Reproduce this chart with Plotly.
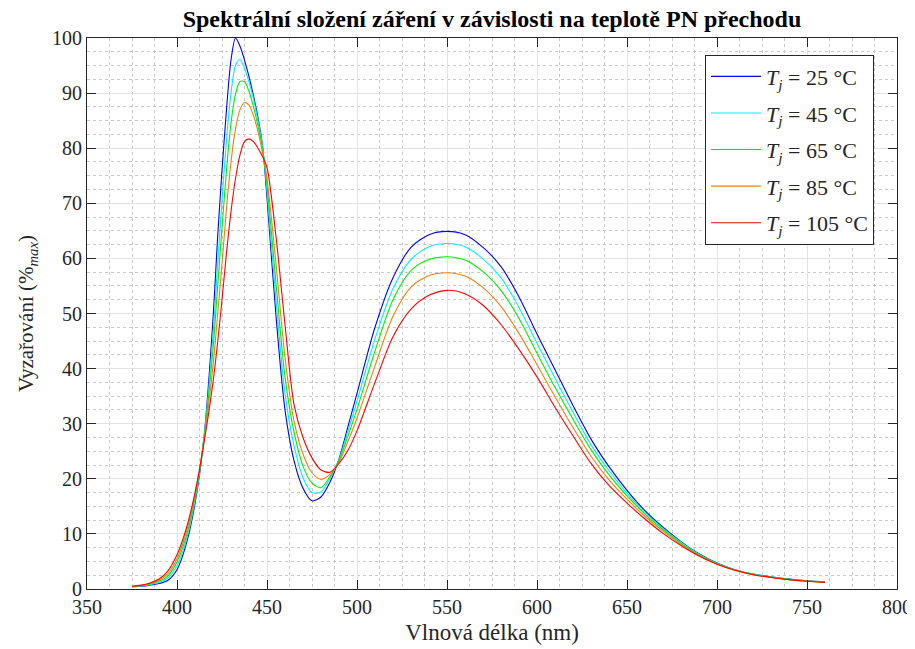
"""Spectral composition of LED radiation vs. PN junction temperature."""

import plotly.graph_objects as go

# Wavelength grid (nm)
wavelength = [375, 380, 385, 390, 395, 400, 405, 410, 415, 420,
              422.5, 425, 427.5, 430, 432.5, 435, 437.5, 440, 442.5, 445, 447.5, 450,
              455, 460, 465, 470, 475, 480, 485, 490, 495, 500,
              510, 520, 530, 540, 550, 560, 570, 580, 590, 600, 610, 620, 630,
              640, 650, 660, 670, 680, 690, 700, 710, 720, 730, 740, 750, 760]

# Relative radiation (% of max) per junction temperature
tj_25 = [0.4, 0.5, 0.7, 1.0, 1.6, 3.5, 8.0, 15.5, 27.5, 49,
         63.5, 76, 87, 96, 100, 98.5, 96, 93, 89.5, 85.5, 80.5, 71,
         49.5, 32.5, 23.3, 18.3, 16.0, 16.7, 19.4, 23.6, 29.5, 35.5,
         47.5, 56.5, 62, 64.3, 64.9, 64.3, 62, 58.5, 53, 46.3, 39.8, 33.3, 27.2,
         22.2, 17.9, 14.2, 11.2, 8.6, 6.4, 4.7, 3.5, 2.7, 2.2, 1.8, 1.5, 1.3]

tj_45 = [0.4, 0.55, 0.8, 1.2, 2.0, 4.2, 8.7, 16.0, 27.5, 46,
         58.5, 70.5, 81.5, 90, 95, 96.1, 94.5, 92, 89, 85, 80.5, 72.2,
         52.5, 35.5, 26, 20.2, 17.5, 17.6, 20.1, 23.5, 28.7, 34.1,
         45.4, 54.5, 59.8, 62.1, 62.7, 62.1, 59.9, 56.5, 51.1, 44.6, 38.3, 32.1, 26.2,
         21.5, 17.4, 13.9, 11.0, 8.5, 6.3, 4.65, 3.5, 2.7, 2.2, 1.8, 1.5, 1.3]

tj_65 = [0.45, 0.6, 0.9, 1.4, 2.4, 4.9, 9.4, 16.6, 27.3, 43.5,
         54.5, 65.5, 76, 84.5, 89.8, 92.1, 92.1, 90.3, 87.5, 84, 79.8, 73.3,
         55.5, 38.5, 28.5, 22.3, 19.2, 18.4, 20.4, 23.3, 27.8, 32.6,
         43.2, 52.5, 57.8, 59.8, 60.3, 59.7, 57.6, 54.2, 49.1, 42.8, 36.6, 30.8, 25.3,
         20.7, 16.9, 13.6, 10.8, 8.3, 6.2, 4.6, 3.45, 2.65, 2.15, 1.75, 1.45, 1.25]

tj_85 = [0.45, 0.65, 1.0, 1.6, 2.8, 5.5, 10.1, 17.1, 27, 40.5,
         49.5, 59, 69, 77.5, 83.5, 87, 88.3, 87.8, 85.9, 83, 79.2, 74.5,
         59, 42, 30.5, 24.5, 21.1, 19.9, 20.8, 23, 26.8, 31,
         40.5, 49.5, 54.8, 56.9, 57.4, 56.8, 54.7, 51.3, 46.4, 40.7, 34.9, 29.3, 24.1,
         19.8, 16.3, 13.2, 10.5, 8.1, 6.1, 4.55, 3.4, 2.6, 2.1, 1.7, 1.45, 1.2]

tj_105 = [0.5, 0.7, 1.1, 1.8, 3.3, 6.2, 10.8, 17.5, 26.5, 37.5,
          44.5, 52.5, 61, 68.5, 74.5, 78.8, 81.2, 81.7, 81.2, 80, 78.5, 76.5,
          64, 48, 33.5, 27.5, 23.8, 21.6, 21.2, 22.8, 25.2, 28.7,
          37.5, 45.8, 50.8, 53.3, 54.2, 53.6, 51.5, 48, 43.5, 38.5, 33, 27.8, 22.8,
          18.8, 15.6, 12.7, 10.1, 7.9, 6.0, 4.5, 3.4, 2.6, 2.1, 1.7, 1.4, 1.2]

temperatures = [25, 45, 65, 85, 105]
series = [tj_25, tj_45, tj_65, tj_85, tj_105]
colors = ['#0000ff', '#00f0f0', '#00ee00', '#f08010', '#ff0000']

FONT = 'Liberation Serif, Times New Roman, serif'
AXIS_COLOR = '#262626'

# the page body has an 8 px default margin, so the figure is shrunk by that much
W, H = 907, 641

fig = go.Figure()

for temp, values, color in zip(temperatures, series, colors):
    fig.add_trace(go.Scatter(
        x=wavelength,
        y=values,
        mode='lines',
        line=dict(color=color, width=1.1, shape='spline', smoothing=0.8),
        name=f'<i>T</i><sub><i>j</i></sub> = {temp} °C',
        legendgroup=str(temp),
    ))

axis_common = dict(
    showline=True,
    linecolor=AXIS_COLOR,
    linewidth=1,
    mirror='ticks',
    ticks='inside',
    ticklen=9,
    tickcolor=AXIS_COLOR,
    showgrid=True,
    gridcolor='#e3e3e3',
    gridwidth=1,
    zeroline=False,
    tickfont=dict(family=FONT, size=20, color=AXIS_COLOR),
)

fig.update_layout(
    width=W,
    height=H,
    autosize=False,
    paper_bgcolor='white',
    plot_bgcolor='white',
    margin=dict(l=79, r=18, t=30, b=59.5, autoexpand=False),
    title=dict(
        text='<b>Spektrální složení záření v závislosti na teplotě PN přechodu</b>',
        font=dict(family=FONT, size=24, color='black'),
        x=0.5, xref='paper', xanchor='center',
        y=1 - 11 / H, yref='container', yanchor='middle',
    ),
    xaxis=dict(
        **axis_common,
        range=[350, 800],
        dtick=50,
        minor=dict(dtick=12.5, showgrid=True, griddash='dot', gridcolor='#c8c8c8', ticks=''),
        title=dict(text='Vlnová délka (nm)', font=dict(family=FONT, size=23, color=AXIS_COLOR), standoff=6),
    ),
    yaxis=dict(
        **axis_common,
        range=[0, 100],
        dtick=10,
        minor=dict(dtick=2.5, showgrid=True, griddash='dot', gridcolor='#c8c8c8', ticks=''),
        title=dict(text='Vyzařování (%<sub><i>max</i></sub>)', font=dict(family=FONT, size=21, color=AXIS_COLOR), standoff=12),
    ),
    legend=dict(
        x=0.763, y=0.970,
        xanchor='left', yanchor='top',
        bgcolor='white',
        bordercolor=AXIS_COLOR,
        borderwidth=1,
        font=dict(family=FONT, size=22, color=AXIS_COLOR),
        tracegroupgap=5,
        itemwidth=50,
    ),
)

fig.write_html("out.html")
